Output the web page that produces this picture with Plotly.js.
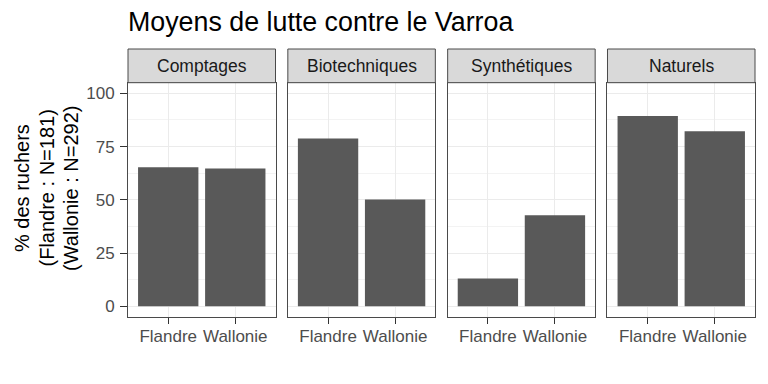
<!DOCTYPE html>
<html>
<head>
<meta charset="utf-8">
<script src="https://cdn.plot.ly/plotly-3.0.1.min.js"></script>
<style>html,body{margin:0;padding:0;background:#fff;}#chart{width:768px;height:384px;}</style>
</head>
<body>
<div id="chart"></div>
<script>
var categories = ['Flandre', 'Wallonie'];
var panels = ['Comptages', 'Biotechniques', 'Synthétiques', 'Naturels'];
var comptages = [65.3, 64.7];
var biotechniques = [78.8, 50.2];
var synthetiques = [13.1, 42.8];
var naturels = [89.4, 82.2];
var yTicks = [0, 25, 50, 75, 100];
var titleText = 'Moyens de lutte contre le Varroa';
var yTitleLines = ['% des ruchers', '(Flandre : N=181)', '(Wallonie : N=292)'];

var seriesList = [comptages, biotechniques, synthetiques, naturels];
var FONT = 'Liberation Sans, Arial, Helvetica, sans-serif';
var W = 768, H = 384;
var mL = 128, mR = 13, mT = 49, mB = 67;
var plotW = W - mL - mR, plotH = H - mT - mB;
var panelTopPx = 82.7; // bottom of strip
var yDomTop = (H - mB - panelTopPx) / plotH;
var gap = 12.33;
var pw = (plotW - 3 * gap) / 4;

var data = [];
var layout = {
  width: W, height: H,
  margin: {l: mL, r: mR, t: mT, b: mB, pad: 0},
  paper_bgcolor: '#ffffff',
  plot_bgcolor: '#ffffff',
  showlegend: false,
  font: {family: FONT, color: '#4d4d4d'},
  title: {
    text: titleText,
    font: {family: FONT, size: 26.8, color: '#000000'},
    x: mL / W, xref: 'container', xanchor: 'left',
    y: 1 - 22 / H, yref: 'container', yanchor: 'middle'
  },
  shapes: [],
  annotations: [],
  bargap: 0.1
};

for (var i = 0; i < 4; i++) {
  var sfx = i === 0 ? '' : String(i + 1);
  var x0 = i * (pw + gap) / plotW;
  var x1 = (i * (pw + gap) + pw) / plotW;
  if (i === 3) x1 = 1;
  data.push({
    type: 'bar',
    x: categories,
    y: seriesList[i],
    xaxis: 'x' + sfx,
    yaxis: 'y' + sfx,
    width: 0.9,
    marker: {color: '#595959', line: {width: 0}},
    hoverinfo: 'x+y'
  });
  layout['xaxis' + sfx] = {
    domain: [x0, x1],
    anchor: 'y' + sfx,
    type: 'category',
    range: [-0.6, 1.6],
    showgrid: true, gridcolor: '#ebebeb', gridwidth: 1,
    showline: true, mirror: true, linecolor: '#4a4a4a', linewidth: 1,
    ticks: 'outside', ticklen: 6, tickcolor: '#333333', tickwidth: 1,
    ticklabelstandoff: -2,
    tickfont: {family: FONT, size: 17, color: '#4d4d4d'},
    zeroline: false, fixedrange: true
  };
  var ya = {
    domain: [0, yDomTop],
    anchor: 'x' + sfx,
    range: [-5, 105],
    tickmode: 'array', tickvals: yTicks, ticktext: yTicks.map(String),
    showgrid: true, gridcolor: '#ebebeb', gridwidth: 1,
    minor: {tickmode: 'array', tickvals: [12.5, 37.5, 62.5, 87.5], showgrid: true, gridcolor: '#ebebeb', gridwidth: 0.6, ticks: ''},
    showline: true, mirror: true, linecolor: '#4a4a4a', linewidth: 1,
    zeroline: false, fixedrange: true,
    tickfont: {family: FONT, size: 17, color: '#4d4d4d'}
  };
  if (i === 0) {
    ya.ticks = 'outside'; ya.ticklen = 7; ya.tickcolor = '#333333'; ya.tickwidth = 1;
    ya.ticklabelstandoff = 2;
    ya.showticklabels = true;
    ya.automargin = false;
  } else {
    ya.ticks = ''; ya.showticklabels = false; ya.matches = 'y';
  }
  layout['yaxis' + sfx] = ya;
  layout.shapes.push({
    type: 'rect', xref: 'x' + sfx + ' domain', yref: 'paper',
    x0: 0, x1: 1, y0: yDomTop, y1: 1,
    fillcolor: '#d9d9d9', line: {color: '#4a4a4a', width: 1}, layer: 'above'
  });
  layout.annotations.push({
    xref: 'x' + sfx + ' domain', yref: 'paper',
    x: 0.5, y: (yDomTop + 1) / 2, xanchor: 'center', yanchor: 'middle',
    text: panels[i], showarrow: false,
    font: {family: FONT, size: 17.5, color: '#1a1a1a'}
  });
}

// y-axis title: three rotated lines
var yTitleX = [22.5, 47, 71.5];
for (var k = 0; k < yTitleLines.length; k++) {
  layout.annotations.push({
    xref: 'paper', yref: 'paper',
    x: (yTitleX[k] - mL) / plotW,
    y: (H - mB - 188.5) / plotH,
    xanchor: 'center', yanchor: 'middle',
    textangle: -90,
    text: yTitleLines[k], showarrow: false,
    font: {family: FONT, size: 20, color: '#000000'}
  });
}

Plotly.newPlot('chart', data, layout, {displayModeBar: false, staticPlot: true});
</script>
</body>
</html>
